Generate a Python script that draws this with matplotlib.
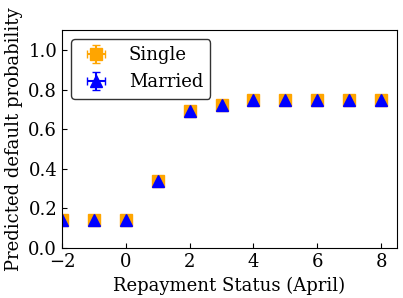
import matplotlib
matplotlib.use('Agg')
import matplotlib.pyplot as plt

plt.rcParams['font.family'] = 'serif'
plt.rcParams['font.serif'] = ['DejaVu Serif']

status = [-2, -1, 0, 1, 2, 3, 4, 5, 6, 7, 8]
single = [0.14, 0.14, 0.14, 0.34, 0.69, 0.72, 0.745, 0.745, 0.745, 0.745, 0.745]
married = [0.14, 0.14, 0.14, 0.34, 0.69, 0.72, 0.745, 0.745, 0.745, 0.745, 0.745]
err_single = [0.005] * 11
err_married = [0.005] * 11

fig = plt.figure(figsize=(4.03, 2.98), dpi=100)
ax = fig.add_axes([0.154, 0.168, 0.831, 0.731])

ax.errorbar(status, single, yerr=err_single, xerr=0.1, fmt='s', color='orange',
            markersize=8, capsize=3, label='Single')
ax.errorbar(status, married, yerr=err_married, xerr=0.1, fmt='^', color='blue',
            markersize=8, capsize=3, label='Married')

ax.set_xlim(-2, 8.5)
ax.set_ylim(0, 1.1)
ax.set_xticks([-2, 0, 2, 4, 6, 8])
ax.set_yticks([0, 0.2, 0.4, 0.6, 0.8, 1.0])
ax.tick_params(direction='in', labelsize=13)
ax.set_xlabel('Repayment Status (April)', fontsize=13)
ax.set_ylabel('Predicted default probability', fontsize=13)
ax.legend(loc='upper left', fontsize=13, edgecolor='black')

fig.savefig('out.png', dpi=100)
